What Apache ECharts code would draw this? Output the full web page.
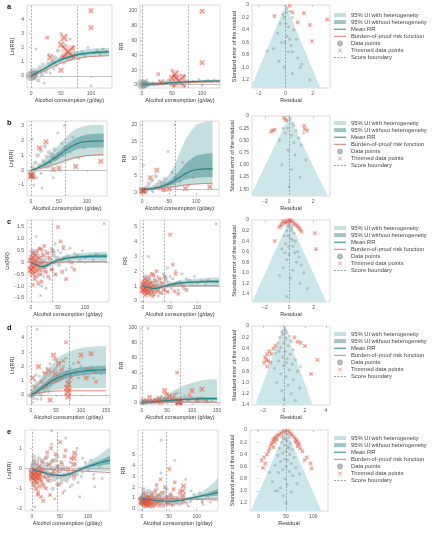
<!DOCTYPE html>
<html>
<head>
<meta charset="utf-8">
<script src="https://cdn.jsdelivr.net/npm/echarts@6/dist/echarts.min.js"></script>
<style>
  html, body { margin: 0; background: #fff; }
  #main { width: 436px; height: 533px; }
</style>
</head>
<body>
<div id="main"></div>
<script>
// ---------- data ----------
// dose grids (g/day)
var doseA = [0,10,20,30,40,50,60,70,80,90,100,110,120,130];
var doseB = [0,10,20,30,40,50,60,70,80,90,100,110,120,130];
var doseC = [0,10,20,30,40,50,60,70,80,90,100,110,120,130,140];
var doseD = [0,10,20,30,40,50,60,70,80,90,100,110,120,130,140,150];
var doseE = [0,10,20,30,40,50,60,70,80,90,100,110,120,130,139];

// ln(RR) curves
var meanA   = [0,0.22,0.45,0.7,0.95,1.15,1.3,1.42,1.52,1.58,1.63,1.66,1.68,1.7];
var outerHiA= [0.05,0.35,0.65,0.95,1.2,1.42,1.58,1.7,1.8,1.87,1.92,1.95,1.97,1.99];
var outerLoA= [-0.05,0.1,0.27,0.47,0.7,0.88,1.02,1.14,1.24,1.3,1.35,1.37,1.39,1.41];
var innerHiA= [0.02,0.28,0.53,0.8,1.05,1.25,1.4,1.52,1.62,1.68,1.73,1.76,1.78,1.8];
var innerLoA= [-0.02,0.16,0.37,0.6,0.85,1.05,1.2,1.32,1.42,1.48,1.53,1.56,1.58,1.6];
var bprfA   = [0,0.12,0.3,0.5,0.72,0.9,1.04,1.16,1.26,1.32,1.37,1.39,1.41,1.43];

var meanB   = [0,0.12,0.3,0.5,0.75,1.0,1.3,1.55,1.75,1.87,1.93,1.95,1.96,1.96];
var outerHiB= [0,0.25,0.55,0.9,1.3,1.7,2.1,2.5,2.75,2.9,3.0,3.03,3.05,3.05];
var outerLoB= [0,0.02,0.08,0.15,0.25,0.38,0.5,0.65,0.78,0.87,0.92,0.95,0.96,0.97];
var innerHiB= [0,0.17,0.4,0.65,0.95,1.25,1.6,1.9,2.15,2.3,2.4,2.43,2.45,2.46];
var innerLoB= [0,0.08,0.2,0.35,0.55,0.75,1.0,1.2,1.38,1.47,1.5,1.52,1.53,1.53];
var bprfB   = [0,0.06,0.15,0.25,0.38,0.5,0.63,0.76,0.86,0.93,0.98,1.01,1.03,1.04];

var meanC   = [0,-0.1,-0.18,-0.12,0,0.1,0.16,0.2,0.22,0.24,0.25,0.26,0.27,0.27,0.27];
var outerHiC= [0.05,-0.03,-0.1,-0.03,0.1,0.21,0.28,0.33,0.36,0.39,0.41,0.43,0.45,0.46,0.47];
var outerLoC= [-0.05,-0.17,-0.26,-0.21,-0.1,-0.01,0.04,0.07,0.08,0.09,0.09,0.09,0.09,0.08,0.07];
var innerHiC= [0.02,-0.07,-0.14,-0.08,0.05,0.15,0.21,0.26,0.28,0.3,0.32,0.33,0.35,0.35,0.36];
var innerLoC= [-0.02,-0.13,-0.22,-0.16,-0.05,0.05,0.11,0.14,0.16,0.18,0.18,0.19,0.19,0.19,0.18];
var bprfC   = [0,0,0.01,0.01,0.02,0.02,0.03,0.03,0.03,0.04,0.04,0.04,0.04,0.05,0.05];

var meanD   = [0,0.2,0.45,0.7,0.95,1.15,1.3,1.42,1.52,1.6,1.65,1.7,1.73,1.75,1.76,1.77];
var outerHiD= [0.2,0.7,1.2,1.7,2.1,2.45,2.75,2.95,3.1,3.2,3.3,3.35,3.4,3.43,3.45,3.45];
var outerLoD= [-0.1,0,0.1,0.2,0.3,0.35,0.4,0.43,0.45,0.47,0.48,0.49,0.5,0.5,0.5,0.5];
var innerHiD= [0.05,0.35,0.65,0.95,1.2,1.42,1.57,1.7,1.8,1.88,1.94,1.99,2.02,2.04,2.05,2.06];
var innerLoD= [-0.05,0.07,0.27,0.47,0.7,0.88,1.02,1.14,1.24,1.32,1.37,1.41,1.44,1.46,1.47,1.48];
var bprfD   = [0,0.1,0.18,0.23,0.26,0.28,0.29,0.29,0.3,0.3,0.3,0.3,0.3,0.3,0.3,0.3];

var meanE   = [-0.05,-0.12,-0.2,-0.27,-0.32,-0.35,-0.33,-0.25,-0.12,0,0.1,0.19,0.27,0.35,0.42];
var outerHiE= [0.05,-0.03,-0.11,-0.18,-0.23,-0.26,-0.24,-0.15,0,0.14,0.3,0.48,0.67,0.87,1.05];
var outerLoE= [-0.15,-0.21,-0.29,-0.36,-0.41,-0.44,-0.42,-0.35,-0.24,-0.14,-0.1,-0.1,-0.11,-0.12,-0.13];
var innerHiE= [0,-0.08,-0.16,-0.23,-0.28,-0.31,-0.29,-0.2,-0.07,0.06,0.18,0.29,0.4,0.52,0.62];
var innerLoE= [-0.1,-0.16,-0.24,-0.31,-0.36,-0.39,-0.37,-0.3,-0.17,-0.06,0.02,0.09,0.14,0.18,0.22];
var bprfE   = [0,-0.015,-0.03,-0.045,-0.06,-0.07,-0.085,-0.1,-0.115,-0.13,-0.14,-0.155,-0.17,-0.185,-0.2];

// observations [dose, ln(RR), weight]
var pointsA = [[0,0,8],[2,0.05,6],[3,0.3,5],[6,0.1,5],[5,-0.1,4],[8,0.2,4],[10,0.4,3],[12,-0.3,3],[15,0.6,3],[18,0.1,3],[20,0.8,3],[22,-0.5,2],[25,0.3,3],[28,0.9,2],[30,1.5,2],[32,0.2,2],[35,1.0,3],[38,0.5,2],[40,1.3,3],[42,0.7,2],[45,1.8,3],[48,1.1,3],[50,3.0,2],[52,1.4,3],[55,0.9,2],[57,2.2,2],[60,1.6,3],[62,1.2,3],[65,2.6,2],[68,1.3,2],[70,1.9,2],[75,1.5,3],[80,1.2,2],[85,1.7,2],[90,1.4,2],[95,2.0,2],[100,-0.7,2],[105,1.6,2],[110,1.8,2],[115,1.5,2],[120,1.9,2],[125,1.7,2],[8,1.9,2]];
var trimmedA = [[27,2.7,3],[32,1.3,5],[50,2.2,5],[55,2.7,6],[62,1.7,11],[50,0.4,4],[100,3.4,4],[100,4.6,4]];
var pointsB = [[0,-0.2,4],[3,0.2,3],[5,-1.0,2],[7,0.0,3],[8,0.5,3],[10,-0.5,2],[12,1.0,3],[15,0.3,3],[18,1.3,3],[18,-0.2,2],[20,-1.2,2],[22,0.6,3],[25,1.6,3],[28,0.9,3],[30,0.2,2],[32,1.2,3],[35,0.5,2],[38,1.0,4],[40,-0.5,2],[42,1.4,3],[45,0.8,3],[48,2.5,2],[50,1.1,3],[55,1.8,2],[58,1.0,2],[60,3.0,2],[62,1.5,3],[70,1.2,2],[75,2.2,2],[80,1.7,2],[85,0.8,2],[95,1.5,2],[2,2.1,2]];
var trimmedB = [[0,-0.4,5],[1,-0.3,4],[2,-0.35,5],[4,-0.45,4],[15,1.5,4],[27,1.9,4],[40,0.05,4],[50,0.15,4],[80,0.25,4],[125,0.6,4]];
var pointsC = [[0,0.1,4],[1,-0.2,4],[2,0.3,3],[3,-0.4,3],[4,0.5,3],[5,-0.1,5],[6,0.2,3],[7,-0.6,2],[8,0,4],[9,0.4,3],[10,-0.3,3],[10,1.1,2],[11,0.1,4],[12,-0.8,2],[13,0.3,3],[14,-0.2,3],[15,0.6,2],[16,-0.5,3],[17,0,4],[18,0.2,3],[19,-0.1,3],[20,-1.0,2],[21,0.4,2],[22,-0.3,3],[23,0.1,3],[24,-0.6,2],[25,0.3,2],[26,0,4],[27,-0.2,3],[28,0.5,2],[28,-1.1,2],[29,-0.4,2],[30,0.2,3],[32,-0.1,3],[34,0.4,2],[35,-0.7,2],[36,0.1,3],[38,0.6,2],[40,-0.3,3],[42,0.3,3],[42,0.45,3],[44,0,3],[45,0.8,2],[46,-0.5,2],[48,0.2,3],[50,0.5,2],[52,-0.1,3],[55,0.4,2],[57,0.1,3],[60,0.7,2],[62,0.2,3],[65,-0.3,2],[68,0.3,2],[70,0.1,3],[72,0.6,2],[75,-0.2,2],[80,0.4,2],[85,0.3,3],[90,0.1,2],[95,0.5,2],[100,0.2,2],[108,0.3,2],[115,0.1,2],[120,0.35,2]];
var trimmedC = [[0,0.1,4],[0,-0.3,5],[1,-0.3,5],[2,0.2,4],[3,-0.5,4],[4,0.4,4],[4,-0.95,3],[5,-0.2,6],[6,0,4],[7,-0.7,3],[8,0.3,4],[9,-0.4,4],[10,0.1,4],[11,-0.6,3],[12,0.5,3],[13,-0.1,4],[14,-0.9,3],[15,0.2,3],[16,-0.3,4],[17,0.6,3],[18,-0.5,3],[18,-1.4,2],[19,0,3],[20,-0.8,3],[20,0.55,3],[22,0.3,3],[24,-0.2,3],[25,0.7,3],[27,-0.4,3],[30,0.4,3],[32,-0.6,3],[35,0.2,3],[38,-0.3,3],[40,0.5,3],[45,-0.5,3],[50,1.5,3],[55,0.9,3],[58,-0.4,3],[60,0.6,3],[65,-0.7,3],[75,0,3],[80,-0.3,3],[135,1.65,2]];
var pointsD = [[0,0,4],[2,0.3,3],[3,-0.5,2],[4,-0.2,3],[5,0.6,3],[7,0.1,4],[8,1.0,2],[10,0.4,3],[10,1.4,2],[12,-0.3,2],[13,0.8,3],[15,0.2,3],[17,1.3,2],[18,0.5,3],[20,0,3],[20,-0.3,2],[22,1.0,3],[24,0.6,3],[25,1.6,2],[27,0.3,3],[28,1.2,3],[30,0.8,3],[32,1.9,2],[33,0.5,3],[35,1.4,3],[35,0.2,2],[37,1.0,3],[38,2.2,2],[40,0.7,3],[42,1.6,3],[43,1.2,3],[45,2.5,2],[47,0.9,3],[48,1.8,3],[50,1.3,3],[52,2.0,2],[55,1.5,3],[57,1.0,2],[58,2.3,2],[60,1.7,3],[62,1.2,3],[65,2.0,2],[67,1.4,3],[70,2.6,2],[72,1.6,3],[75,1.0,3],[78,1.9,2],[80,1.4,2],[85,2.2,2],[90,1.6,3],[95,1.2,2],[100,2.0,2],[105,1.5,2],[110,1.8,2],[115,1.3,2],[120,1.9,2],[125,1.2,2],[130,1.6,2],[140,1.5,2]];
var trimmedD = [[3,1.2,4],[8,0.6,3],[12,4.6,2],[15,2.0,4],[20,0.9,3],[28,1.5,3],[30,0.6,3],[35,1.7,4],[38,-0.35,4],[40,0.9,3],[45,2.8,4],[48,1.5,4],[50,1.0,3],[50,2.5,3],[55,2.2,4],[60,1.2,3],[62,1.8,3],[65,2.4,3],[70,3.7,3],[72,0.5,5],[73,0.2,5],[74,-0.1,5],[75,0.8,5],[76,0.35,4],[80,1.2,3],[95,2.3,3],[100,2.8,4],[110,1.2,4],[115,1.8,3],[120,2.9,4],[125,1.7,3],[130,0.95,3]];
var pointsE = [[0,-0.1,5],[2,0.2,4],[3,0.6,3],[4,-0.3,4],[5,0.1,6],[7,-0.5,3],[8,0.3,4],[10,-0.2,5],[12,0.5,3],[14,-0.4,4],[15,0,5],[17,-0.7,3],[18,0.4,3],[20,-0.1,5],[22,-0.9,3],[24,0.2,4],[25,-0.4,4],[27,0.6,3],[28,-0.2,4],[30,0.1,4],[32,-0.6,3],[34,0.3,3],[35,-0.3,4],[35,1.2,2],[35,1.85,2],[37,-1.0,3],[38,0,4],[40,-0.5,4],[42,0.4,3],[44,-0.2,4],[45,-0.8,3],[45,0.6,3],[47,0.1,3],[48,-0.4,4],[50,-0.1,4],[52,-0.7,3],[54,0.2,3],[55,-0.5,4],[57,-0.3,3],[58,-1.1,2],[60,0,3],[60,1.5,2],[62,-0.6,3],[64,-0.2,3],[65,-0.4,4],[68,0.3,2],[70,-0.3,3],[72,-0.8,2],[74,-0.1,3],[75,-0.5,3],[78,0.2,2],[80,-0.3,3],[82,-0.7,2],[85,0,2],[88,-0.4,2],[90,-0.2,2],[90,0.5,2],[95,0.3,2],[100,-0.1,2],[105,0.4,2],[110,-0.3,2],[112,-0.9,2],[120,0.1,2],[125,-0.5,2]];
var trimmedE = [[0,-0.2,5],[0,-0.4,5],[1,-0.5,5],[2,-0.3,6],[3,-0.8,4],[3,0.4,3],[4,-0.1,5],[5,-0.6,5],[5,-1.9,2],[6,-0.4,6],[7,-1.0,4],[8,-0.2,5],[9,-0.7,4],[10,-0.35,6],[10,-1.3,3],[11,-1.2,3],[12,-0.5,4],[12,-0.05,4],[13,0.1,4],[14,-0.9,3],[15,-0.3,4],[16,-1.4,3],[17,-0.6,3],[18,0.3,3],[19,-0.1,4],[20,-1.6,3],[20,-0.8,3],[22,-0.4,3],[24,0.5,3],[25,-1.0,3],[27,0.8,3],[28,-0.6,3],[30,0.2,3],[30,-0.4,3],[32,-1.3,3],[34,1.0,3],[35,-0.3,3],[37,0.4,3],[38,-0.15,3],[40,-1.5,2],[42,0.7,3],[45,0.1,3],[48,-0.8,3],[50,1.3,3],[52,0.3,3],[55,-1.2,2],[55,0,3],[58,0.6,3],[60,0.9,3],[65,0,3],[68,-0.9,2],[70,0.5,3],[74,0.2,4],[75,0.5,4],[76,0.75,4],[75,-0.35,3],[80,1.0,2],[85,-1.4,2],[110,-0.5,2]];

// funnel plots: [residual, standard error]
var funnelA = [[0,0],[-2.6,1.33],[2.6,1.33]];
var funnelB = [[0,0],[-3.2,1.64],[3.2,1.64]];
var funnelC = [[0,0],[-3.05,1.55],[3.05,1.55]];
var funnelD = [[0,0],[-2.75,1.4],[2.75,1.4]];
var funnelE = [[50,0],[-16,1.35],[116,1.35]];
var residA = [[0.1,0.05],[0.05,0.12],[-0.1,0.2],[0.3,0.1],[-0.2,0.15],[0.5,0.2],[0,0.3],[-0.4,0.3],[0.2,0.35],[0.6,0.4],[-0.6,0.45],[0.1,0.5],[0.3,0.55],[0.8,0.55],[-0.05,0.6],[-0.3,0.6],[0.4,0.65],[-0.9,0.7],[-1.4,0.74],[0.2,0.75],[0.5,0.75],[0.9,0.85],[-0.5,0.9],[1.2,0.95],[1.1,1.0],[-0.1,1.0],[0.5,1.1],[1.8,1.2]];
var residTrimA = [[-0.83,0.18],[0.3,0.01],[0.5,0.12],[1.36,0.13],[3.1,0.23],[0.9,0.28],[1.8,0.32],[1.96,0.58]];
var residB = [[0.1,0.05],[-0.2,0.1],[0.3,0.15],[0.4,0.2],[-0.5,0.25],[-0.1,0.25],[0.6,0.3],[-0.3,0.35],[1.2,0.35],[0.2,0.4],[0.8,0.45],[-0.8,0.5],[0.4,0.55],[1.0,0.6],[-0.1,0.7],[0.5,0.8],[1.4,0.9],[-0.6,1.0],[0.2,1.1],[0.9,1.25],[0,1.45]];
var residTrimB = [[-1.35,0.3],[-1.2,0.28],[-1.5,0.32],[-0.3,0.08],[-0.4,0.04],[1.25,0.2],[1.3,0.27],[1.5,0.3]];
var residC = [[0.05,0.05],[-0.1,0.12],[0.3,0.1],[0,0.1],[0.2,0.15],[0.15,0.2],[-0.2,0.2],[0.4,0.25],[-0.1,0.3],[-0.4,0.3],[0.1,0.35],[0.25,0.38],[0.5,0.4],[-0.3,0.45],[-0.05,0.5],[0.3,0.5],[-0.6,0.55],[0.7,0.6],[0.45,0.62],[-0.35,0.62],[0,0.65],[0.8,0.7],[-0.2,0.75],[0.6,0.8],[1.0,0.85],[-0.5,0.9],[0.3,0.95],[1.2,1.0],[-0.8,1.05],[0.1,1.1],[0.9,1.2],[1.5,1.3],[-0.2,1.45]];
var residTrimC = [[-0.5,0.02],[-0.4,0.04],[-0.3,0.06],[-0.2,0.03],[-0.15,0.01],[0,0],[0.1,0.01],[0.2,0.02],[0.35,0.05],[0.5,0.08],[0.6,0.1],[-0.6,0.08],[-0.7,0.1],[0.7,0.12],[0.8,0.15],[0.9,0.18],[-0.8,0.14],[1.0,0.22],[-1.2,0.4],[2.1,0.25],[2.2,0.55]];
var residD = [[0.1,0.05],[0.15,0.08],[-0.2,0.1],[0.3,0.12],[-0.1,0.15],[0.5,0.18],[-0.4,0.2],[0.2,0.22],[0.6,0.25],[0.7,0.28],[-0.6,0.3],[0,0.3],[0.4,0.35],[-0.3,0.38],[0.9,0.42],[0.1,0.45],[-0.45,0.45],[-0.8,0.48],[0.6,0.5],[-0.1,0.55],[0.3,0.58],[1.1,0.6],[-0.5,0.62],[0.25,0.65],[0.8,0.68],[0,0.7],[1.6,0.72],[-0.9,0.75],[0.5,0.78],[1.3,0.8],[-0.3,0.85],[0.2,0.9],[0.9,0.95],[-0.7,1.0],[0.4,1.05],[1.5,1.1],[-0.2,1.15],[0.7,1.2],[0,1.3],[1.1,1.32]];
var residTrimD = [[-1.8,0.55],[-1.6,0.5],[-1.7,0.6],[-1.5,0.62],[-1.4,0.45],[-1.2,0.5],[-1.9,0.65],[-1.0,0.4],[-1.3,0.65],[-1.6,0.72],[-0.8,0.35],[1.0,0.2],[1.3,0.28],[1.6,0.3],[2.0,0.35],[3.2,0.6],[2.6,0.85]];
var residE = [[50,0.02],[48,0.05],[53,0.07],[58,0.08],[45,0.1],[42,0.12],[56,0.12],[46,0.15],[50,0.15],[52,0.18],[42,0.2],[58,0.22],[47,0.25],[54,0.28],[38,0.3],[55,0.3],[62,0.32],[50,0.35],[44,0.38],[57,0.4],[35,0.42],[65,0.45],[48,0.48],[53,0.5],[40,0.52],[60,0.55],[30,0.58],[50,0.6],[68,0.62],[44,0.65],[56,0.68],[20,0.7],[36,0.7],[75,0.72],[62,0.75],[48,0.8],[25,0.85],[70,0.88],[52,0.9],[40,0.95],[30,1.0],[35,1.0],[60,1.02],[45,1.08],[50,1.2]];
var residTrimE = [[47,0.01],[44,0.03],[41,0.05],[38,0.07],[35,0.09],[32,0.11],[30,0.13],[28,0.15],[26,0.17],[33,0.16],[29,0.2],[24,0.22],[22,0.25],[27,0.28],[20,0.3],[18,0.35],[53,0.01],[56,0.03],[59,0.06],[62,0.09],[65,0.12],[68,0.15],[70,0.18],[72,0.21],[67,0.2],[74,0.24],[71,0.27],[76,0.3],[10,0.45],[5,0.5],[12,0.55],[15,0.4],[80,0.35],[88,0.45],[95,0.55],[97,0.63],[8,0.62],[84,0.5]];

// score boundaries (g/day)
var boundA = [0,77], boundB = [0,61], boundC = [0,39], boundD = [0,76], boundE = [0,45];

// tick values
var doseTicks = [0,50,100], doseTicksD = [0,50,100,150];
var lnTicksA = [0,1,2,3,4], lnTicksB = [-1,0,1,2,3], lnTicksC = [-1.5,-1,-0.5,0,0.5,1,1.5], lnTicksD = [0,1,2,3,4], lnTicksE = [-2,-1,0,1];
var rrTicksA = [0,20,40,60,80,100], rrTicksB = [0,5,10,15,20], rrTicksC = [0,1,2,3,4,5], rrTicksD = [0,20,40,60,80,100], rrTicksE = [0,1,2,3,4,5];
var resTicks = [-2,0,2], resTicksD = [-2,0,2,4], resTicksE = [0,50,100];
var seTicksA = [0,0.2,0.4,0.6,0.8,1.0,1.2], seTicksB = [0,0.25,0.5,0.75,1.0,1.25,1.5], seTicksC = [0,0.2,0.4,0.6,0.8,1.0,1.2,1.4], seTicksE = [0,0.2,0.4,0.6,0.8,1.0,1.2];

// ---------- layout ----------
var FONT = 'Liberation Sans';
var C_OUT = 'rgba(150,196,194,0.55)', C_IN = 'rgba(80,150,152,0.55)', C_MEAN = '#1d8688', C_BPRF = '#e0786c';
var C_PT = 'rgba(140,150,156,0.5)', C_TRIM = 'rgba(226,80,60,0.85)', C_TRIMBG = 'rgba(238,140,125,0.45)', C_BND = '#7a7a7a', C_FUN = '#cbe7ea';
var X_SYM = 'path://M0,1L1,0L5,4L9,0L10,1L6,5L10,9L9,10L5,6L1,10L0,9L4,5Z';

var rows = [
  { tag:'a', top:5, bottom:88, legendTop:12, dose:doseA, mean:meanA, oHi:outerHiA, oLo:outerLoA, iHi:innerHiA, iLo:innerLoA, bprf:bprfA, pts:pointsA, trim:trimmedA, bound:boundA,
    c1:{left:27, right:112, x:[-6.7,135], xt:doseTicks, y:[-0.85,5], yt:lnTicksA, dec:0},
    c2:{left:140, right:220, x:[-3.3,130], xt:doseTicks, y:[-4,108], yt:rrTicksA},
    c3:{left:252, right:330, top:5, x:[-2.5,3.3], xt:resTicks, y:[0,1.33], yt:seTicksA, dec:1, fun:funnelA, res:residA, resT:residTrimA, centre:0} },
  { tag:'b', top:121, bottom:196, legendTop:120, dose:doseB, mean:meanB, oHi:outerHiB, oLo:outerLoB, iHi:innerHiB, iLo:innerLoB, bprf:bprfB, pts:pointsB, trim:trimmedB, bound:boundB,
    c1:{left:27, right:107, x:[-7,136], xt:doseTicks, y:[-1.73,3.3], yt:lnTicksB, dec:0},
    c2:{left:140, right:219, x:[-4,142], xt:doseTicks, y:[-0.9,21.2], yt:rrTicksB},
    c3:{left:252, right:330, top:116, x:[-3.08,3.4], xt:resTicks, y:[0,1.64], yt:seTicksB, dec:2, fun:funnelB, res:residB, resT:residTrimB, centre:0} },
  { tag:'c', top:220, bottom:302, legendTop:225, dose:doseC, mean:meanC, oHi:outerHiC, oLo:outerLoC, iHi:innerHiC, iLo:innerLoC, bprf:bprfC, pts:pointsC, trim:trimmedC, bound:boundC,
    c1:{left:27, right:109, x:[-7,144], xt:doseTicks, y:[-1.67,1.8], yt:lnTicksC, dec:1},
    c2:{left:140, right:220, x:[-5.5,142], xt:doseTicks, y:[-0.07,5.47], yt:rrTicksC},
    c3:{left:252, right:330, top:220, x:[-3.06,3.35], xt:resTicks, y:[0,1.55], yt:seTicksC, dec:1, fun:funnelC, res:residC, resT:residTrimC, centre:0} },
  { tag:'d', top:326, bottom:405, legendTop:331, dose:doseD, mean:meanD, oHi:outerHiD, oLo:outerLoD, iHi:innerHiD, iLo:innerLoD, bprf:bprfD, pts:pointsD, trim:trimmedD, bound:boundD,
    c1:{left:27, right:110, x:[-8,158], xt:doseTicksD, y:[-0.7,4.85], yt:lnTicksD, dec:0},
    c2:{left:140, right:220, x:[-4,156], xt:doseTicksD, y:[-2.7,102.7], yt:rrTicksD},
    c3:{left:252, right:330, top:326, x:[-3.05,4.4], xt:resTicksD, y:[0,1.4], yt:seTicksC, dec:1, fun:funnelD, res:residD, resT:residTrimD, centre:0} },
  { tag:'e', top:430, bottom:511, legendTop:435, dose:doseE, mean:meanE, oHi:outerHiE, oLo:outerLoE, iHi:innerHiE, iLo:innerLoE, bprf:bprfE, pts:pointsE, trim:trimmedE, bound:boundE,
    c1:{left:25, right:110, x:[-12.5,139], xt:doseTicks, y:[-2.1,1.9], yt:lnTicksE, dec:0},
    c2:{left:138, right:218, x:[-7,139], xt:doseTicks, y:[-0.2,7.3], yt:rrTicksE},
    c3:{left:250, right:328, top:430, x:[-16,127], xt:resTicksE, y:[0,1.33], yt:seTicksE, dec:1, fun:funnelE, res:residE, resT:residTrimE, centre:50} }
];

var grids = [], xAxes = [], yAxes = [], series = [], legends = [], graphics = [];

function fmt(dec) {
  return function (v) {
    if (Math.abs(v) < 1e-9) return '0';
    var s = v.toFixed(dec);
    return v < 0 ? '\u2212' + s.slice(1) : s;
  };
}
function axis(gi, range, ticks, dec, extra) {
  var a = {
    gridIndex: gi, type: 'value', min: range[0], max: range[1],
    axisLine: { show: false },
    axisTick: { show: true, customValues: ticks, length: 2, lineStyle: { color: '#999', width: 0.5 } },
    axisLabel: { customValues: ticks, fontSize: 5, color: '#555', margin: 3, fontFamily: FONT, formatter: fmt(dec) },
    splitLine: { show: false },
    nameLocation: 'middle', nameTextStyle: { fontSize: 5.5, color: '#333', fontFamily: FONT }
  };
  for (var k in extra) a[k] = extra[k];
  return a;
}
function ident(v) { return v; }

function addBand(gi, name, xs, lo, hi, color, tf) {
  series.push({
    type: 'custom', name: name, xAxisIndex: gi, yAxisIndex: gi, clip: true, silent: true, z: 1,
    itemStyle: { color: color }, data: [[xs[0], tf(lo[0])]],
    renderItem: function (p, api) {
      var pts = [], i;
      for (i = 0; i < xs.length; i++) pts.push(api.coord([xs[i], tf(hi[i])]));
      for (i = xs.length - 1; i >= 0; i--) pts.push(api.coord([xs[i], tf(lo[i])]));
      return { type: 'polygon', shape: { points: pts }, style: { fill: color } };
    }
  });
}
function addLine(gi, name, xs, ys, color, width, tf) {
  series.push({
    type: 'line', name: name, xAxisIndex: gi, yAxisIndex: gi, symbol: 'none', z: 5, silent: true,
    data: xs.map(function (x, i) { return [x, tf(ys[i])]; }),
    lineStyle: { color: color, width: width }, itemStyle: { color: color }
  });
}
function addScatter(gi, name, pts, color, sym, tf, border, scale) {
  var k = scale || 1.3;
  series.push({
    type: 'scatter', name: name, xAxisIndex: gi, yAxisIndex: gi, symbol: sym, z: 3, silent: true,
    data: pts.map(function (p) { return [p[0], tf(p[1]), p[2] || 2]; }),
    symbolSize: function (v) { return v[2] * k; },
    itemStyle: { color: color, borderColor: border || 'transparent', borderWidth: border ? 0.3 : 0 }
  });
}
function addTrimmed(gi, pts, tf) {
  // light square behind each trimmed mark, then the cross
  addScatter(gi, 'trimmed-box', pts, C_TRIMBG, 'rect', tf, null, 1.25);
  addScatter(gi, 'Trimmed data points', pts, C_TRIM, X_SYM, tf, null, 1.25);
}
function addBoundary(gi, xs) {
  series.push({
    type: 'line', name: 'Score boundary', xAxisIndex: gi, yAxisIndex: gi, data: [],
    itemStyle: { color: C_BND }, lineStyle: { color: C_BND },
    markLine: { silent: true, symbol: ['none', 'none'], label: { show: false }, animation: false,
      lineStyle: { color: C_BND, type: [2, 1.5], width: 0.6 },
      data: xs.map(function (x) { return { xAxis: x }; }) }
  });
}
function addRef(gi, y) {
  series.push({
    type: 'line', name: 'ref', xAxisIndex: gi, yAxisIndex: gi, data: [], z: 2,
    markLine: { silent: true, symbol: ['none', 'none'], label: { show: false }, animation: false,
      lineStyle: { color: '#9a9a9a', type: 'solid', width: 0.6 }, data: [{ yAxis: y }] }
  });
}

var legendData = [
  { name: '95% UI with heterogeneity', icon: 'rect' },
  { name: '95% UI without heterogeneity', icon: 'rect' },
  { name: 'Mean RR', icon: 'path://M0,0H12V1H0Z' },
  { name: 'Burden-of-proof risk function', icon: 'path://M0,0H12V1H0Z' },
  { name: 'Data points', icon: 'circle' },
  { name: 'Trimmed data points', icon: X_SYM },
  { name: 'Score boundary', icon: 'path://M0,0H2V0.7H0Z M3.4,0H5.4V0.7H3.4Z M6.8,0H8.8V0.7H6.8Z M10.2,0H12.2V0.7H10.2Z' }
];

rows.forEach(function (r, ri) {
  var cols = [r.c1, r.c2, r.c3];
  cols.forEach(function (c) {
    var top = c.top != null ? c.top : r.top;
    grids.push({ left: c.left, width: c.right - c.left, top: top, height: r.bottom - top,
      show: true, borderColor: '#c4c4c4', borderWidth: 0.6, backgroundColor: 'transparent' });
  });
  var g1 = ri * 3, g2 = ri * 3 + 1, g3 = ri * 3 + 2;
  var xName = 'Alcohol consumption (g/day)';
  xAxes.push(axis(g1, r.c1.x, r.c1.xt, 0, { name: xName, nameGap: 9 }));
  yAxes.push(axis(g1, r.c1.y, r.c1.yt, r.c1.dec, { name: 'Ln(RR)', nameGap: 12 }));
  xAxes.push(axis(g2, r.c2.x, r.c2.xt, 0, { name: xName, nameGap: 9 }));
  yAxes.push(axis(g2, r.c2.y, r.c2.yt, 0, { name: 'RR', nameGap: 12 }));
  xAxes.push(axis(g3, r.c3.x, r.c3.xt, 0, { name: 'Residual', nameGap: 9 }));
  yAxes.push(axis(g3, r.c3.y, r.c3.yt, r.c3.dec, { inverse: true, name: 'Standard error of the residual', nameGap: 15 }));

  [[g1, ident, 0], [g2, Math.exp, 1]].forEach(function (q) {
    var gi = q[0], tf = q[1];
    addBand(gi, '95% UI with heterogeneity', r.dose, r.oLo, r.oHi, C_OUT, tf);
    addBand(gi, '95% UI without heterogeneity', r.dose, r.iLo, r.iHi, C_IN, tf);
    addRef(gi, q[2]);
    addScatter(gi, 'Data points', r.pts, C_PT, 'circle', tf, 'rgba(110,120,126,0.6)');
    addTrimmed(gi, r.trim, tf);
    addLine(gi, 'Burden-of-proof risk function', r.dose, r.bprf, C_BPRF, 0.9, tf);
    addLine(gi, 'Mean RR', r.dose, r.mean, C_MEAN, 1.1, tf);
    addBoundary(gi, r.bound);
  });

  var fun = r.c3.fun;
  series.push({
    type: 'custom', name: 'funnel', xAxisIndex: g3, yAxisIndex: g3, clip: true, silent: true, z: 1,
    data: [fun[0]],
    renderItem: function (p, api) {
      return { type: 'polygon', shape: { points: fun.map(function (f) { return api.coord(f); }) }, style: { fill: C_FUN } };
    }
  });
  addBoundary(g3, [r.c3.centre]);
  addScatter(g3, 'Data points', r.c3.res.map(function (p) { return [p[0], p[1], 2]; }), C_PT, 'circle', ident, 'rgba(110,120,126,0.6)');
  addTrimmed(g3, r.c3.resT.map(function (p) { return [p[0], p[1], 3]; }), ident);

  legends.push({
    orient: 'vertical', left: 334, top: r.legendTop, itemWidth: 12, itemHeight: 4, itemGap: 1.1,
    selectedMode: false, padding: 0,
    textStyle: { fontSize: 5.8, color: '#444', fontFamily: FONT },
    data: legendData
  });
  graphics.push({ type: 'text', left: 7, top: r.top - 2, style: { text: r.tag, font: 'bold 7.5px ' + FONT, fill: '#111' } });
});

var chart = echarts.init(document.getElementById('main'));
chart.setOption({
  animation: false,
  grid: grids, xAxis: xAxes, yAxis: yAxes, series: series, legend: legends, graphic: graphics
});
</script>
</body>
</html>
